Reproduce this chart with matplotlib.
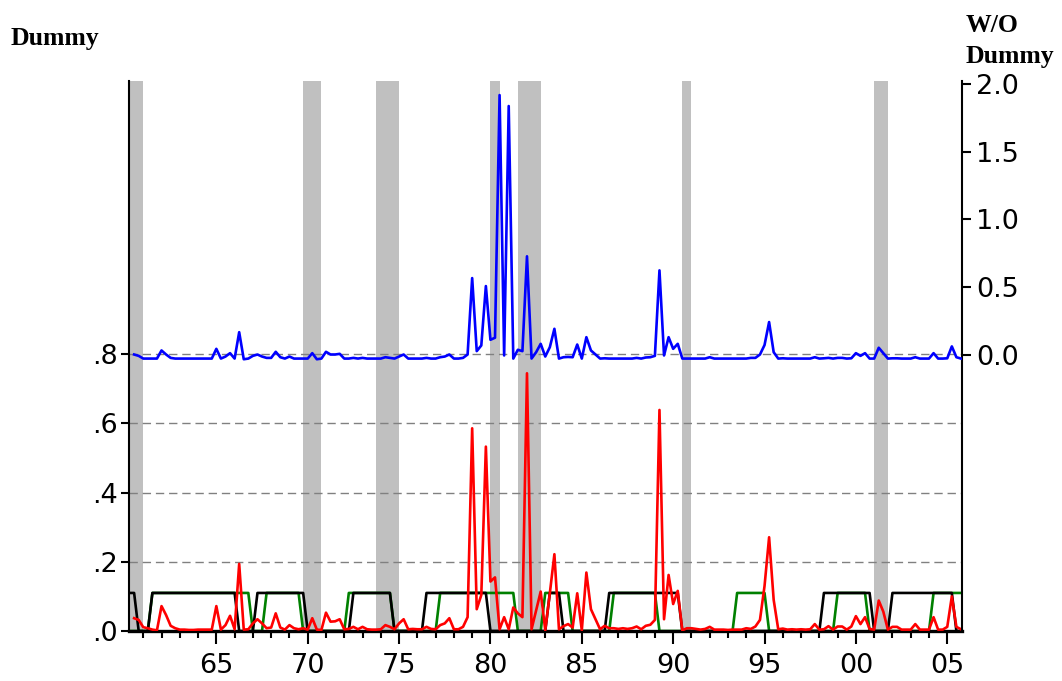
import numpy as np
import matplotlib
matplotlib.use("Agg")
import matplotlib.pyplot as plt
from matplotlib.ticker import FixedLocator, MultipleLocator

# quarterly series, first observation 1960Q3
red_dummy = [
    0.037, 0.032,                      # 1960 Q3-Q4
    0.011, 0.008, 0.004, 0.002,        # 1961
    0.072, 0.046, 0.015, 0.008,
    0.004, 0.004, 0.003, 0.003,
    0.004, 0.004, 0.004, 0.004,
    0.072, 0.004, 0.017, 0.044,        # 1965
    0.005, 0.194, 0.004, 0.005,
    0.022, 0.034, 0.022, 0.008,
    0.010, 0.051, 0.010, 0.004,
    0.017, 0.008, 0.005, 0.008,
    0.004, 0.037, 0.004, 0.003,        # 1970
    0.053, 0.027, 0.028, 0.034,
    0.005, 0.006, 0.012, 0.005,
    0.012, 0.005, 0.004, 0.004,
    0.005, 0.017, 0.012, 0.005,
    0.022, 0.034, 0.005, 0.006,        # 1975
    0.005, 0.005, 0.012, 0.006,
    0.005, 0.017, 0.022, 0.037,
    0.005, 0.005, 0.012, 0.040,
    0.586, 0.063, 0.104, 0.533,
    0.143, 0.155, 0.005, 0.040,        # 1980
    0.005, 0.068, 0.051, 0.040,
    0.745, 0.005, 0.060, 0.114,
    0.002, 0.109, 0.222, 0.005,
    0.014, 0.020, 0.010, 0.109,
    0.002, 0.169, 0.063, 0.034,        # 1985
    0.005, 0.015, 0.008, 0.008,
    0.006, 0.008, 0.006, 0.008,
    0.013, 0.005, 0.015, 0.018,
    0.032, 0.639, 0.034, 0.162,
    0.078, 0.116, 0.002, 0.008,        # 1990
    0.008, 0.006, 0.004, 0.006,
    0.012, 0.004, 0.004, 0.004,
    0.003, 0.004, 0.004, 0.004,
    0.008, 0.006, 0.013, 0.032,
    0.130, 0.271, 0.090, 0.005,        # 1995
    0.007, 0.004, 0.005, 0.004,
    0.005, 0.004, 0.005, 0.020,
    0.004, 0.005, 0.014, 0.004,
    0.013, 0.013, 0.004, 0.013,
    0.043, 0.020, 0.040, 0.006,        # 2000
    0.004, 0.088, 0.056, 0.004,
    0.012, 0.012, 0.004, 0.004,
    0.004, 0.020, 0.004, 0.004,
    0.004, 0.040, 0.004, 0.004,
    0.012, 0.100, 0.012, 0.005,        # 2005
]

blue_no_dummy = [
    0.000, -0.010,
    -0.030, -0.030, -0.030, -0.030,
    0.030, 0.000, -0.025, -0.030,
    -0.030, -0.030, -0.030, -0.030,
    -0.030, -0.030, -0.030, -0.030,
    0.042, -0.030, -0.015, 0.010,      # 1965
    -0.030, 0.165, -0.035, -0.030,
    -0.010, 0.000, -0.015, -0.025,
    -0.025, 0.020, -0.020, -0.030,
    -0.015, -0.030, -0.030, -0.030,
    -0.030, 0.010, -0.035, -0.030,     # 1970
    0.020, 0.000, 0.000, 0.005,
    -0.030, -0.030, -0.025, -0.030,
    -0.025, -0.030, -0.030, -0.030,
    -0.030, -0.020, -0.025, -0.030,
    -0.015, 0.000, -0.030, -0.030,     # 1975
    -0.030, -0.030, -0.025, -0.030,
    -0.030, -0.020, -0.015, 0.000,
    -0.030, -0.030, -0.025, 0.000,
    0.565, 0.025, 0.067, 0.506,
    0.109, 0.124, 1.918, -0.007,       # 1980
    1.837, -0.030, 0.035, 0.025,
    0.726, -0.030, 0.017, 0.079,
    -0.015, 0.054, 0.190, -0.030,
    -0.020, -0.018, -0.020, 0.074,
    -0.030, 0.128, 0.030, 0.000,       # 1985
    -0.030, -0.028, -0.030, -0.030,
    -0.030, -0.030, -0.030, -0.030,
    -0.025, -0.030, -0.022, -0.020,
    -0.010, 0.622, -0.007, 0.128,
    0.042, 0.079, -0.030, -0.030,      # 1990
    -0.030, -0.030, -0.030, -0.030,
    -0.020, -0.030, -0.030, -0.030,
    -0.030, -0.030, -0.030, -0.030,
    -0.030, -0.025, -0.025, 0.000,
    0.070, 0.240, 0.017, -0.030,       # 1995
    -0.028, -0.030, -0.030, -0.030,
    -0.030, -0.030, -0.030, -0.020,
    -0.030, -0.028, -0.025, -0.030,
    -0.025, -0.025, -0.030, -0.028,
    0.010, -0.010, 0.010, -0.030,      # 2000
    -0.030, 0.050, 0.010, -0.030,
    -0.028, -0.028, -0.030, -0.030,
    -0.030, -0.020, -0.030, -0.030,
    -0.030, 0.010, -0.030, -0.030,
    -0.028, 0.060, -0.020, -0.030,     # 2005
]

# dummy variables (first observation 1960Q2), periods where the dummy is on
dummy_level = 0.11
black_on = [(1960.25, 1960.5), (1961.5, 1966.0), (1967.25, 1969.75),
            (1972.5, 1974.5), (1976.5, 1979.75), (1983.25, 1983.75),
            (1986.5, 1990.25), (1998.25, 2000.75), (2002.0, 2005.25)]
green_on = [(1961.5, 1966.75), (1967.75, 1969.5), (1972.25, 1974.5),
            (1977.25, 1981.25), (1983.0, 1984.25), (1986.75, 1989.0),
            (1993.5, 1995.0), (1999.0, 2000.5), (2004.25, 2005.75)]

recessions = [(1960.25, 1961.0), (1969.75, 1970.75), (1973.75, 1975.0),
              (1980.0, 1980.5), (1981.5, 1982.75), (1990.5, 1991.0),
              (2001.0, 2001.75)]

left_ticks = [0.0, 0.2, 0.4, 0.6, 0.8]
left_labels = ['.0', '.2', '.4', '.6', '.8']
right_ticks = [0.0, 0.5, 1.0, 1.5, 2.0]
right_labels = ['0.0', '0.5', '1.0', '1.5', '2.0']
year_ticks = [1965, 1970, 1975, 1980, 1985, 1990, 1995, 2000, 2005]

q_rb = 1960.5 + 0.25 * np.arange(len(red_dummy))
q_all = 1960.25 + 0.25 * np.arange(len(red_dummy) + 1)


def dummy_series(periods):
    s = np.zeros(len(q_all))
    for a, b in periods:
        s[(q_all > a - 0.01) & (q_all < b + 0.01)] = dummy_level
    return s


W, H = 1062, 681
fig = plt.figure(figsize=(W / 100, H / 100), dpi=100)
ax = fig.add_axes([129 / W, 1 - 631 / H, (961.7 - 129) / W, (631 - 81) / H])
ax2 = ax.twinx()

for a, b in recessions:
    ax.axvspan(a, b, color='#c0c0c0', lw=0, zorder=0.5)
for v in [0.2, 0.4, 0.6, 0.8]:
    ax.axhline(v, color='#808080', lw=1.0, ls=(0, (6, 3.5)), zorder=1)

ax.plot(q_all, dummy_series(green_on), color='#008000', lw=1.9, zorder=2)
ax.plot(q_all, dummy_series(black_on), color='black', lw=1.9, zorder=3)
ax.plot(q_rb, red_dummy, color='#ff0000', lw=1.9, zorder=4)
ax2.plot(q_rb, blue_no_dummy, color='#0000ff', lw=1.9, zorder=4)

ax.set_xlim(1960.22, 2005.79)
ax.set_ylim(0, 1.59)
ax2.set_ylim(-2.044, 2.022)

tick_font = dict(family='DejaVu Sans', size=19.5)
ax.xaxis.set_major_locator(FixedLocator(year_ticks))
ax.xaxis.set_minor_locator(MultipleLocator(1))
ax.set_xticklabels([f"{y % 100:02d}" for y in year_ticks], **tick_font)
ax.tick_params(axis='x', which='major', direction='out', length=9.5, width=1.5, pad=6)
ax.tick_params(axis='x', which='minor', direction='out', length=5, width=1.5)

ax.yaxis.set_major_locator(FixedLocator(left_ticks))
ax.set_yticklabels(left_labels, **tick_font)
ax.tick_params(axis='y', direction='out', length=6, width=1.5, pad=2)

ax2.yaxis.set_major_locator(FixedLocator(right_ticks))
ax2.set_yticklabels(right_labels, **tick_font)
ax2.tick_params(axis='y', direction='out', length=6.5, width=1.5, pad=4)

for side in ['top', 'right']:
    ax.spines[side].set_visible(False)
for side in ['top', 'left', 'bottom']:
    ax2.spines[side].set_visible(False)
ax.spines['left'].set_linewidth(1.5)
ax.spines['bottom'].set_linewidth(2.4)
ax2.spines['right'].set_linewidth(1.5)

label_font = dict(family='Liberation Serif', weight='bold', size=18.5)
fig.text(11 / W, 1 - 45 / H, 'Dummy', ha='left', va='baseline', **label_font)
fig.text(966 / W, 1 - 31.5 / H, 'W/O', ha='left', va='baseline', **label_font)
fig.text(966 / W, 1 - 63 / H, 'Dummy', ha='left', va='baseline', **label_font)

fig.savefig('out.png', dpi=100)
